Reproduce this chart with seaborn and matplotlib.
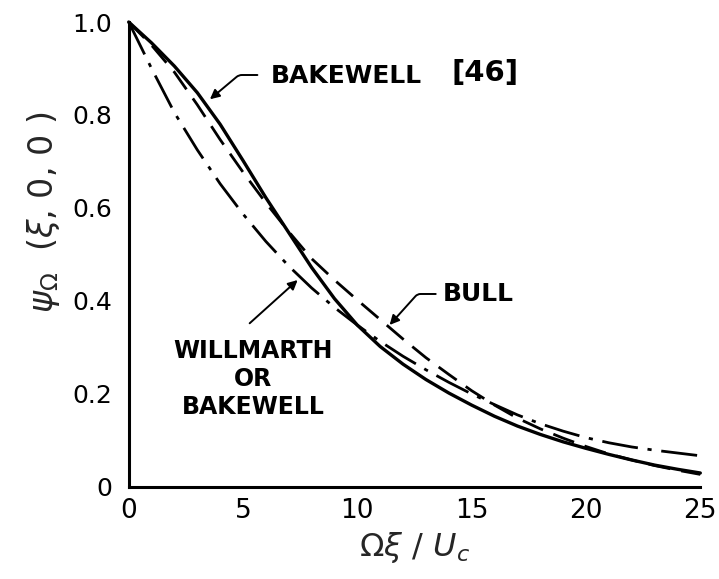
import matplotlib
matplotlib.use("Agg")
import matplotlib.pyplot as plt
import seaborn as sns
import pandas as pd

# ---- data ----
xi = [0, 1, 2, 3, 4, 5, 6, 7, 8, 9, 10, 11, 12, 13, 14, 15, 16, 17, 18, 19, 20, 21, 22, 23, 24, 25]
bakewell46 = [1.0, 0.955, 0.905, 0.848, 0.780, 0.702, 0.622, 0.547, 0.472, 0.405, 0.348, 0.302, 0.264,
              0.231, 0.202, 0.176, 0.152, 0.131, 0.113, 0.097, 0.083, 0.070, 0.058, 0.047, 0.038, 0.030]
bull = [1.0, 0.95, 0.892, 0.822, 0.747, 0.677, 0.611, 0.549, 0.491, 0.445, 0.402, 0.36, 0.318,
        0.278, 0.242, 0.207, 0.176, 0.148, 0.125, 0.105, 0.087, 0.071, 0.058, 0.046, 0.036, 0.027]
willmarth = [1.0, 0.90, 0.805, 0.725, 0.652, 0.587, 0.528, 0.475, 0.428, 0.386, 0.348, 0.313, 0.281,
             0.252, 0.225, 0.200, 0.177, 0.155, 0.136, 0.120, 0.106, 0.095, 0.086, 0.079, 0.073, 0.067]

x_ticks = [0, 5, 10, 15, 20, 25]
x_tick_labels = ["0", "5", "10", "15", "20", "25"]
y_ticks = [0, 0.2, 0.4, 0.6, 0.8, 1.0]
y_tick_labels = ["0", "0.2", "0.4", "0.6", "0.8", "1.0"]

sns.set_style("white")
plt.rcParams["font.family"] = ["DejaVu Sans"]

fig = plt.figure(figsize=(7.19, 5.79), dpi=100)
ax = fig.add_axes([0.179, 0.159, 0.795, 0.803])

df = pd.DataFrame({"xi": xi, "bakewell": bakewell46, "bull": bull, "willmarth": willmarth})

sns.lineplot(data=df, x="xi", y="bakewell", ax=ax, color="black", linewidth=2.4,
             linestyle="-", clip_on=False)
sns.lineplot(data=df, x="xi", y="bull", ax=ax, color="black", linewidth=2.0,
             linestyle=(0, (8, 4)), clip_on=False)
sns.lineplot(data=df, x="xi", y="willmarth", ax=ax, color="black", linewidth=2.0,
             linestyle=(0, (13, 3.5, 1.5, 3.5)), clip_on=False)

ax.set_xlim(0, 25)
ax.set_ylim(0, 1.0)
ax.set_xticks(x_ticks)
ax.set_xticklabels(x_tick_labels)
ax.set_yticks(y_ticks)
ax.set_yticklabels(y_tick_labels)
ax.tick_params(direction="in", length=7, width=1.6, colors="black")
ax.tick_params(axis="x", labelsize=19, pad=8)
ax.tick_params(axis="y", labelsize=18, pad=12)
for s in ["top", "right"]:
    ax.spines[s].set_visible(False)
for s in ["left", "bottom"]:
    ax.spines[s].set_linewidth(2.2)
    ax.spines[s].set_color("black")

ax.set_xlabel(r"$\Omega\xi\ /\ U_c$", fontsize=23, labelpad=4)
ax.set_ylabel(r"$\psi_\Omega$  ($\xi$, 0, 0 )", fontsize=24)
ax.yaxis.set_label_coords(-0.117, 0.59)

txt = dict(fontsize=18, color="black", fontweight="bold")
ax.text(6.2, 0.883, "BAKEWELL", ha="left", va="center", **txt)
ax.text(14.1, 0.89, "[46]", ha="left", va="center", fontsize=21, color="black", fontweight="bold")
ax.annotate("", xy=(3.46, 0.830), xytext=(5.75, 0.886),
            arrowprops=dict(arrowstyle="-|>", color="black", lw=1.4, mutation_scale=14,
                            connectionstyle="angle,angleA=0,angleB=40,rad=3"))

ax.text(13.75, 0.415, "BULL", ha="left", va="center", **txt)
ax.annotate("", xy=(11.33, 0.344), xytext=(13.55, 0.415),
            arrowprops=dict(arrowstyle="-|>", color="black", lw=1.4, mutation_scale=14,
                            connectionstyle="angle,angleA=0,angleB=48,rad=3"))

ax.text(5.45, 0.232, "WILLMARTH\nOR\nBAKEWELL", ha="center", va="center",
        linespacing=1.2, fontsize=17, color="black", fontweight="bold")
ax.annotate("", xy=(7.48, 0.449), xytext=(5.2, 0.348),
            arrowprops=dict(arrowstyle="-|>", color="black", lw=1.4, mutation_scale=14))

fig.savefig("out.png", dpi=100, facecolor="white")
